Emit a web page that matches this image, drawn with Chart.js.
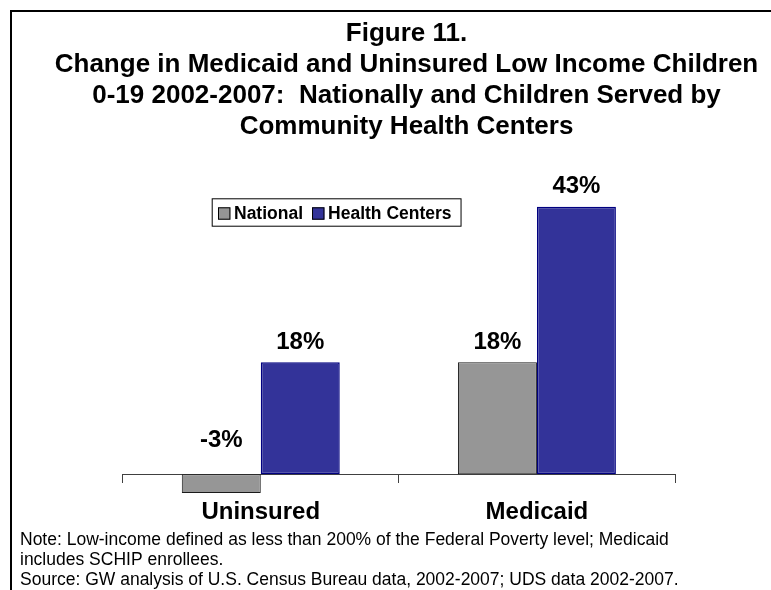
<!DOCTYPE html>
<html>
<head>
<meta charset="utf-8">
<script src="https://cdn.jsdelivr.net/npm/chart.js@4.4.1/dist/chart.umd.min.js"></script>
<style>
html,body{margin:0;padding:0;background:#fff;overflow:hidden}
#wrap{width:771px;height:590px;position:relative}
canvas{display:block}
</style>
</head>
<body>
<div id="wrap"><canvas id="c" width="771" height="590"></canvas></div>
<script>
const titleLines = [
  'Figure 11.',
  'Change in Medicaid and Uninsured Low Income Children',
  '0-19 2002-2007:  Nationally and Children Served by',
  'Community Health Centers'
];
const categories = ['Uninsured', 'Medicaid'];
const seriesNames = ['National', 'Health Centers'];
const nationalValues = [-3, 18];
const healthCenterValues = [18, 43];
const noteLines = [
  'Note: Low-income defined as less than 200% of the Federal Poverty level; Medicaid',
  'includes SCHIP enrollees.',
  'Source: GW analysis of U.S. Census Bureau data, 2002-2007; UDS data 2002-2007.'
];
const yMin = -5;
const yMax = 50;

const FONT = "Arial, 'Liberation Sans', sans-serif";
Chart.defaults.font.family = FONT;
Chart.defaults.color = '#000';

const framePlugin = {
  id: 'frame',
  beforeDraw(chart) {
    const ctx = chart.ctx;
    ctx.save();
    ctx.fillStyle = '#fff';
    ctx.fillRect(0, 0, chart.width, chart.height);
    ctx.strokeStyle = '#000';
    ctx.lineWidth = 2;
    ctx.beginPath();
    ctx.moveTo(11, chart.height);
    ctx.lineTo(11, 11);
    ctx.lineTo(chart.width, 11);
    ctx.stroke();
    ctx.restore();
  }
};

const valueLabelPlugin = {
  id: 'valueLabels',
  afterDatasetsDraw(chart) {
    const ctx = chart.ctx;
    const y0 = chart.scales.y.getPixelForValue(0);
    ctx.save();
    ctx.font = 'bold 24px ' + FONT;
    ctx.fillStyle = '#000';
    ctx.textAlign = 'center';
    ctx.textBaseline = 'alphabetic';
    chart.data.datasets.forEach((ds, di) => {
      const meta = chart.getDatasetMeta(di);
      meta.data.forEach((bar, i) => {
        const v = ds.data[i];
        const y = v >= 0 ? bar.y - 13.4 : y0 - 27.7;
        ctx.fillText(v + '%', bar.x, y);
      });
    });
    ctx.restore();
  }
};

const legendBoxPlugin = {
  id: 'legendBox',
  afterDraw(chart) {
    const ctx = chart.ctx;
    const ca = chart.chartArea;
    const L = ca.left + 89;
    const T = ca.top + 35;
    const H = 27.4;
    const cy = T + H / 2;
    ctx.save();
    ctx.font = 'bold 17.5px ' + FONT;
    ctx.textAlign = 'left';
    ctx.textBaseline = 'alphabetic';
    let x = L + 6.3;
    chart.data.datasets.forEach(ds => {
      ctx.fillStyle = ds.backgroundColor;
      ctx.fillRect(x, cy - 4.7, 12.4, 12.4);
      ctx.strokeStyle = '#000';
      ctx.lineWidth = 1;
      ctx.strokeRect(x + 0.5, cy - 4.2, 11.4, 11.4);
      x += 16;
      ctx.fillStyle = '#000';
      ctx.fillText(ds.label, x, cy + 6.8);
      x += ctx.measureText(ds.label).width + 9;
    });
    const W = x - L;
    ctx.strokeStyle = '#000';
    ctx.lineWidth = 1;
    ctx.strokeRect(L + 0.5, T + 0.5, W, H);
    ctx.restore();
  }
};

const notesPlugin = {
  id: 'notes',
  afterDraw(chart) {
    const ctx = chart.ctx;
    ctx.save();
    ctx.font = '17.5px ' + FONT;
    ctx.fillStyle = '#000';
    ctx.textAlign = 'left';
    ctx.textBaseline = 'alphabetic';
    noteLines.forEach((line, i) => {
      ctx.fillText(line, 20, chart.height - 45 + i * 20);
    });
    ctx.restore();
  }
};

new Chart(document.getElementById('c'), {
  type: 'bar',
  data: {
    labels: categories,
    datasets: [
      {
        label: seriesNames[0],
        data: nationalValues,
        backgroundColor: '#969696',
        borderColor: '#1a1a1a',
        borderWidth: 1,
        borderSkipped: false
      },
      {
        label: seriesNames[1],
        data: healthCenterValues,
        backgroundColor: '#333399',
        borderColor: '#000080',
        borderWidth: 1.5,
        borderSkipped: false
      }
    ]
  },
  options: {
    responsive: false,
    animation: false,
    events: [],
    datasets: { bar: { categoryPercentage: 0.572, barPercentage: 1 } },
    layout: { padding: { left: 42, right: 0, top: 0, bottom: 84.6 } },
    plugins: {
      legend: { display: false },
      tooltip: { enabled: false },
      title: {
        display: true,
        text: titleLines,
        color: '#000',
        font: { family: FONT, size: 26, weight: 'bold', lineHeight: '31px' },
        padding: { top: 18.5, bottom: 20.8 }
      }
    },
    scales: {
      x: {
        position: { y: 0 },
        offset: true,
        z: 1,
        grid: { display: true, drawOnChartArea: false, drawTicks: true, tickLength: 8, color: '#404040', lineWidth: 1, offset: true },
        border: { display: true, color: '#404040', width: 1 },
        ticks: { color: '#000', font: { family: FONT, size: 24, weight: 'bold' }, padding: 15.5, maxRotation: 0, autoSkip: false }
      },
      y: {
        min: yMin,
        max: yMax,
        display: true,
        grid: { display: false },
        border: { display: false },
        ticks: { display: false },
        afterFit(s) { s.width = 80.7; }
      },
      y2: {
        position: 'right',
        min: 0,
        max: 1,
        display: true,
        grid: { display: false },
        border: { display: false },
        ticks: { display: false },
        afterFit(s) { s.width = 96; }
      }
    }
  },
  plugins: [framePlugin, valueLabelPlugin, legendBoxPlugin, notesPlugin]
});
</script>
</body>
</html>
